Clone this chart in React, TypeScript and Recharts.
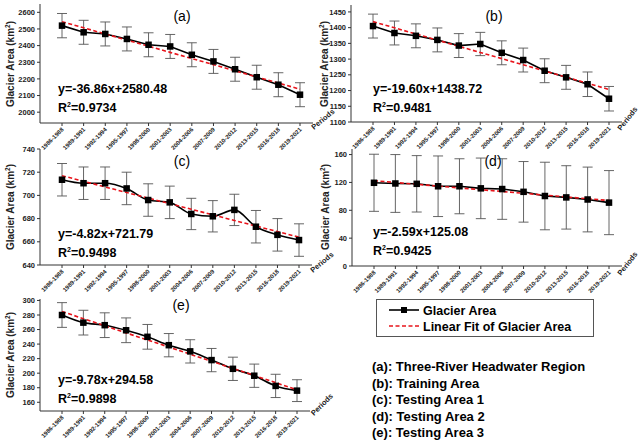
import { ErrorBar, Line, LineChart, XAxis, YAxis } from 'recharts';

const FONT = '"Liberation Sans", Arial, sans-serif';

const periods = [
  '1986-1988', '1989-1991', '1992-1994', '1995-1997', '1998-2000', '2001-2003',
  '2004-2006', '2007-2009', '2010-2012', '2013-2015', '2016-2018', '2019-2021',
];

// (a) Three-River Headwater Region
const areaA = [2520, 2480, 2470, 2440, 2405, 2395, 2345, 2305, 2258, 2210, 2165, 2105];
const errA = [73, 72, 72, 72, 72, 72, 72, 72, 72, 72, 72, 72];
const fitA = [2543.6, 2506.8, 2469.9, 2433.0, 2396.2, 2359.3, 2322.5, 2285.6, 2248.7, 2211.9, 2175.0, 2138.2];

// (b) Training Area
const areaB = [1405, 1383, 1374, 1361, 1343, 1348, 1320, 1297, 1263, 1242, 1220, 1174];
const errB = [38, 38, 38, 38, 38, 37, 38, 38, 38, 38, 39, 39];
const fitB = [1419.1, 1399.5, 1379.9, 1360.3, 1340.7, 1321.1, 1301.5, 1281.9, 1262.3, 1242.7, 1223.1, 1203.5];

// (c) Testing Area 1
const areaC = [713.5, 710.5, 710.5, 706, 696, 694, 684, 682, 687.5, 673, 666, 661.5];
const errC = [14, 14, 14, 14, 14, 14, 13.5, 13.5, 13.5, 14, 14, 14];
const fitC = [717.0, 712.2, 707.3, 702.5, 697.7, 692.9, 688.1, 683.2, 678.4, 673.6, 668.8, 664.0];

// (d) Testing Area 2
const areaD = [119.5, 118.5, 118, 114.5, 114.5, 111.5, 110.5, 106.5, 100.5, 98.5, 95.5, 91];
const errD = [41, 41.5, 40.5, 43.5, 39.5, 43.5, 43.5, 43.5, 48.5, 45.5, 46.5, 46];
const fitD = [122.5, 119.9, 117.3, 114.7, 112.1, 109.5, 107.0, 104.4, 101.8, 99.2, 96.6, 94.0];

// (e) Testing Area 3
const areaE = [280, 269.5, 266, 259, 250, 238.5, 230, 218, 206, 196.5, 182.5, 176];
const errE = [17, 17, 17, 17, 17, 16, 16, 16, 16, 16, 16, 15];
const fitE = [284.8, 275.0, 265.2, 255.4, 245.7, 235.9, 226.1, 216.3, 206.6, 196.8, 187.0, 177.2];

const rows = (area: number[], err: number[], fit: number[]) =>
  periods.map((p, i) => ({ period: p, area: area[i], err: err[i], fit: fit[i] }));

const XTick = (props: any) => {
  const { x, y, payload } = props;
  return (
    <text
      x={x + 2}
      y={y + 2}
      transform={`rotate(-45 ${x + 2} ${y + 2})`}
      textAnchor="end"
      fontSize={6}
      fontWeight="bold"
      fontFamily={FONT}
      fill="#222"
    >
      {payload.value}
    </text>
  );
};

const SquareDot = (props: any) => {
  const { cx, cy, index } = props;
  if (cx == null || cy == null) return <g key={index} />;
  return <rect key={index} x={cx - 3.25} y={cy - 3.25} width={6.5} height={6.5} fill="#000" />;
};

interface PanelProps {
  left: number;
  top: number;
  w: number;
  h: number;
  data: any[];
  domain: [number, number];
  ticks: number[];
  smooth?: boolean;
}

function Panel({ left, top, w, h, data, domain, ticks, smooth }: PanelProps) {
  return (
    <div style={{ position: 'absolute', left: left - 40, top: top - 6 }}>
      <LineChart width={w + 50} height={h + 36} data={data} margin={{ top: 6, right: 10, left: 0, bottom: 0 }}>
        <XAxis
          xAxisId="b"
          dataKey="period"
          height={30}
          interval={0}
          padding={{ left: 22, right: 13 }}
          tick={<XTick />}
          tickSize={3}
          stroke="#333"
        />
        <XAxis xAxisId="t" dataKey="period" orientation="top" height={0} tick={false} tickLine={false} stroke="#888" />
        <YAxis
          yAxisId="l"
          width={40}
          domain={domain}
          ticks={ticks}
          allowDataOverflow
          tickSize={3}
          stroke="#333"
          tick={{ fontSize: 7.5, fontWeight: 'bold', fill: '#222', fontFamily: FONT }}
        />
        <YAxis yAxisId="r" orientation="right" width={0} domain={domain} tick={false} tickLine={false} stroke="#888" />
        <Line
          xAxisId="b"
          yAxisId="l"
          dataKey="area"
          type={smooth ? 'monotone' : 'linear'}
          stroke="#000"
          strokeWidth={1.6}
          dot={<SquareDot />}
          isAnimationActive={false}
        >
          <ErrorBar dataKey="err" width={5} stroke="#555" strokeWidth={0.9} direction="y" />
        </Line>
        <Line
          xAxisId="b"
          yAxisId="l"
          dataKey="fit"
          type="linear"
          stroke="#e8141b"
          strokeWidth={1.6}
          strokeDasharray="4 2.5"
          dot={false}
          isAnimationActive={false}
        />
      </LineChart>
    </div>
  );
}

const YLabel = ({ x, y }: { x: number; y: number }) => (
  <text
    x={x}
    y={y}
    transform={`rotate(-90 ${x} ${y})`}
    textAnchor="middle"
    fontSize={10}
    fontWeight="bold"
    fontFamily={FONT}
    fill="#222"
  >
    Glacier Area (km
    <tspan fontSize={6.5} dy={-4}>2</tspan>
    <tspan dy={4}>)</tspan>
  </text>
);

const Periods = ({ x, y, a }: { x: number; y: number; a: number }) => (
  <text x={x} y={y} transform={`rotate(${a} ${x} ${y})`} fontSize={7.5} fontWeight="bold" fontFamily={FONT} fill="#222">
    Periods
  </text>
);

const Eq = ({ x, y, eq, r2 }: { x: number; y: number; eq: string; r2: string }) => (
  <g fontFamily={FONT} fontWeight="bold" fill="#000" fontSize={12.5}>
    <text x={x} y={y}>{eq}</text>
    <text x={x} y={y + 18.5}>
      R<tspan fontSize={7} dy={-5}>2</tspan>
      <tspan dy={5}>=</tspan>
      {r2}
    </text>
  </g>
);

const Tag = ({ x, y, t }: { x: number; y: number; t: string }) => (
  <text x={x} y={y} textAnchor="middle" fontSize={14} fontFamily={FONT} fill="#000">
    {t}
  </text>
);

const notes = [
  '(a): Three-River Headwater Region',
  '(b): Training Area',
  '(c): Testing Area 1',
  '(d): Testing Area 2',
  '(e): Testing Area 3',
];

export default function App() {
  return (
    <div style={{ position: 'absolute', left: 0, top: 0, width: 641, height: 444, background: '#fff', fontFamily: FONT }}>
      <Panel left={40} top={4} w={273} h={119} data={rows(areaA, errA, fitA)} domain={[1935, 2650]} ticks={[2000, 2100, 2200, 2300, 2400, 2500, 2600]} />
      <Panel left={351} top={5} w={271} h={117} data={rows(areaB, errB, fitB)} domain={[1100, 1472]} ticks={[1100, 1150, 1200, 1250, 1300, 1350, 1400, 1450]} />
      <Panel left={40} top={149} w={272} h={116} data={rows(areaC, errC, fitC)} domain={[640, 740]} ticks={[640, 660, 680, 700, 720, 740]} smooth />
      <Panel left={352} top={149} w={270} h={117} data={rows(areaD, errD, fitD)} domain={[0, 168]} ticks={[0, 20, 40, 60, 80, 100, 120, 140, 160]} />
      <Panel left={40} top={299} w={270} h={112} data={rows(areaE, errE, fitE)} domain={[148, 302]} ticks={[160, 180, 200, 220, 240, 260, 280, 300]} smooth />

      <svg width={641} height={444} style={{ position: 'absolute', left: 0, top: 0, pointerEvents: 'none' }}>
        <YLabel x={14} y={64} />
        <YLabel x={328} y={64} />
        <YLabel x={14} y={207} />
        <YLabel x={329} y={207} />
        <YLabel x={14} y={355} />

        <Tag x={182} y={21} t="(a)" />
        <Tag x={494} y={21} t="(b)" />
        <Tag x={182} y={166} t="(c)" />
        <Tag x={493} y={166} t="(d)" />
        <Tag x={181} y={310} t="(e)" />

        <Eq x={58} y={93} eq="y=-36.86x+2580.48" r2="0.9734" />
        <Eq x={373} y={93} eq="y=-19.60x+1438.72" r2="0.9481" />
        <Eq x={58} y={238} eq="y=-4.82x+721.79" r2="0.9498" />
        <Eq x={373} y={236} eq="y=-2.59x+125.08" r2="0.9425" />
        <Eq x={58} y={384} eq="y=-9.78x+294.58" r2="0.9898" />

        <Periods x={314} y={130} a={-40} />
        <Periods x={621} y={131} a={-52} />
        <Periods x={313} y={273} a={-40} />
        <Periods x={621} y={276} a={-52} />
        <Periods x={314} y={416} a={-45} />

        <rect x={376.5} y={299.5} width={217} height={37} fill="#fff" stroke="#555" strokeWidth={1} />
        <line x1={389} y1={310} x2={419} y2={310} stroke="#000" strokeWidth={1.6} />
        <rect x={401} y={307} width={6} height={6} fill="#000" />
        <line x1={389} y1={326} x2={419} y2={326} stroke="#e8141b" strokeWidth={1.6} strokeDasharray="4 2.5" />
        <g fontFamily={FONT} fontWeight="bold" fontSize={12.5} fill="#000">
          <text x={423} y={314.5}>Glacier Area</text>
          <text x={423} y={331}>Linear Fit of Glacier Area</text>
        </g>

        <g fontFamily={FONT} fontWeight="bold" fontSize={13} fill="#000">
          {notes.map((n, i) => (
            <text key={n} x={372} y={371 + i * 16.5}>
              {n}
            </text>
          ))}
        </g>
      </svg>
    </div>
  );
}
